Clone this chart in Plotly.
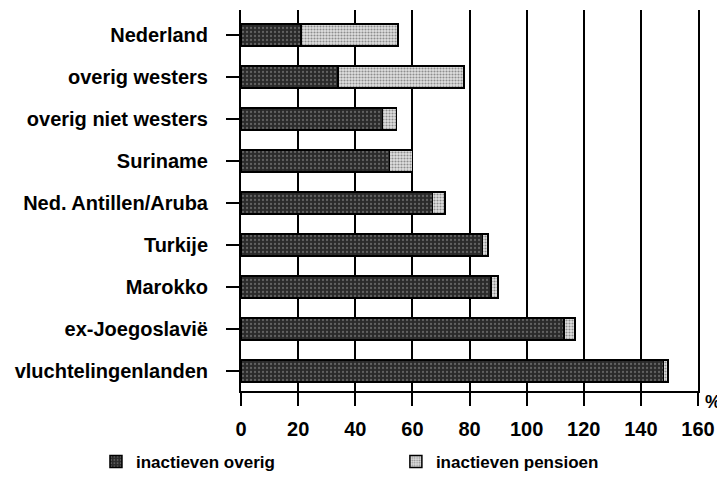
import plotly.graph_objects as go

categories = ["Nederland", "overig westers", "overig niet westers", "Suriname",
              "Ned. Antillen/Aruba", "Turkije", "Marokko", "ex-Joegoslaviё",
              "vluchtelingenlanden"]
inactieven_overig = [21, 34, 49.5, 52, 67, 84.5, 87.5, 113, 148]
inactieven_pensioen = [34, 44, 5, 8, 4.5, 2, 2.5, 4, 1.5]
x_ticks = [0, 20, 40, 60, 80, 100, 120, 140, 160]
series_names = ["inactieven overig", "inactieven pensioen"]

FONT = "Liberation Sans, Arial, sans-serif"

fig = go.Figure()
fig.add_trace(go.Bar(
    y=categories, x=inactieven_overig, orientation="h", name=series_names[0],
    legend="legend", showlegend=True,
    marker=dict(color="#2e2e2e", line=dict(color="black", width=1.5),
                pattern=dict(shape=".", fgcolor="#9a9a9a", bgcolor="#2a2a2a",
                             size=4, solidity=0.25)),
    width=0.52,
))
fig.add_trace(go.Bar(
    y=categories, x=inactieven_pensioen, orientation="h", name=series_names[1],
    legend="legend2", showlegend=True,
    marker=dict(color="#c8c8c8", line=dict(color="black", width=1.5),
                pattern=dict(shape=".", fgcolor="#3a3a3a", bgcolor="#e0e0e0",
                             size=3, solidity=0.4)),
    width=0.52,
))

def legend_cfg(x):
    return dict(orientation="h", x=x, y=0.079, xanchor="left", yanchor="middle",
                xref="container", yref="container", visible=True,
                font=dict(family=FONT, size=17, color="black", weight="bold"),
                itemwidth=30, bgcolor="rgba(0,0,0,0)")

fig.update_layout(
    barmode="stack",
    showlegend=True,
    width=717, height=493,
    margin=dict(l=233, r=27, t=2, b=110, autoexpand=False),
    plot_bgcolor="white", paper_bgcolor="white",
    font=dict(family=FONT, size=19, color="black"),
    legend=legend_cfg(0.1227),
    legend2=legend_cfg(0.541),
    xaxis=dict(range=[0, 160], tickvals=x_ticks, ticktext=[str(v) for v in x_ticks],
               showgrid=True, gridcolor="black", gridwidth=1.8,
               zeroline=False, showline=True, linecolor="black", linewidth=1.5,
               automargin=False,
               ticks="outside", ticklen=13, tickwidth=1.8, tickcolor="black",
               ticklabelstandoff=6,
               tickfont=dict(family=FONT, size=20, weight="bold"),
               fixedrange=True),
    yaxis=dict(categoryorder="array", categoryarray=categories,
               range=[8.476, -0.595], showgrid=False, zeroline=False,
               showline=True, linecolor="black", linewidth=2, automargin=False,
               mirror=True,
               ticks="outside", ticklen=13, tickwidth=1.5, tickcolor="black",
               ticklabelstandoff=14,
               tickfont=dict(family=FONT, size=20, weight="bold")),
)
fig.add_annotation(text="<b>%</b>", xref="paper", yref="paper", x=1.0, y=0.0,
                   xanchor="left", yanchor="middle", xshift=5, yshift=-11,
                   showarrow=False, font=dict(family=FONT, size=18, color="black"))

fig.write_html("out.html")
